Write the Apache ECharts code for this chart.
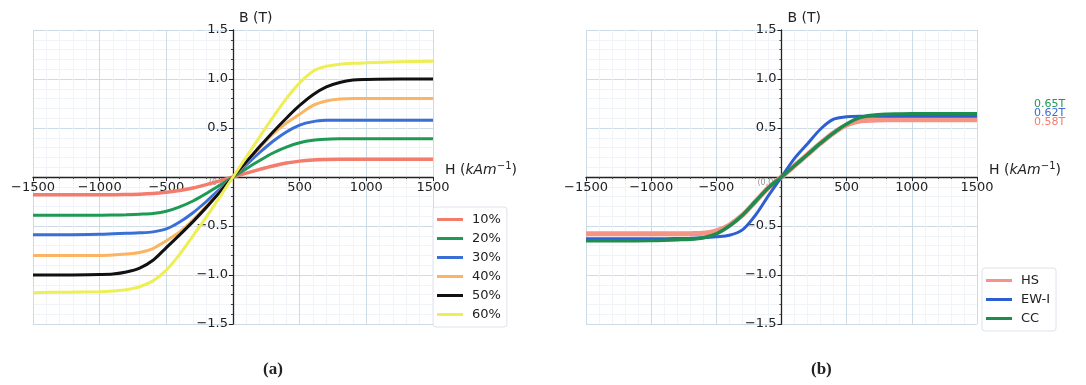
<!DOCTYPE html>
<html>
<head>
<meta charset="utf-8">
<script src="https://cdn.jsdelivr.net/npm/echarts@6/dist/echarts.min.js"></script>
<style>html,body{margin:0;padding:0;background:#fff}#c{width:1086px;height:385px}</style>
</head>
<body>
<div id="c"></div>
<script>
// ---- data ----
const H = [-1500,-1250,-1000,-900,-800,-700,-600,-500,-400,-300,-200,-100,0,100,200,300,400,500,600,700,800,900,1000,1250,1500];

const leftNames = ['10%','20%','30%','40%','50%','60%'];
const b10 = [-0.18,-0.18,-0.18,-0.18,-0.178,-0.175,-0.168,-0.155,-0.138,-0.113,-0.078,-0.04,0,0.04,0.078,0.113,0.142,0.162,0.174,0.178,0.18,0.18,0.18,0.18,0.18];
const b20 = [-0.39,-0.39,-0.39,-0.388,-0.385,-0.38,-0.372,-0.35,-0.305,-0.245,-0.168,-0.085,0,0.085,0.168,0.245,0.305,0.35,0.375,0.385,0.39,0.39,0.39,0.39,0.39];
const b30 = [-0.59,-0.59,-0.585,-0.58,-0.575,-0.57,-0.56,-0.53,-0.46,-0.365,-0.25,-0.125,0,0.125,0.25,0.365,0.46,0.53,0.565,0.578,0.58,0.58,0.58,0.58,0.58];
const b40 = [-0.80,-0.80,-0.80,-0.795,-0.785,-0.77,-0.73,-0.65,-0.56,-0.44,-0.30,-0.15,0,0.15,0.30,0.44,0.55,0.64,0.73,0.775,0.795,0.80,0.80,0.80,0.80];
const b50 = [-1.0,-1.0,-0.995,-0.99,-0.97,-0.93,-0.85,-0.72,-0.59,-0.455,-0.31,-0.155,0,0.156,0.31,0.46,0.60,0.73,0.84,0.92,0.965,0.99,0.995,1.0,1.0];
const b60 = [-1.18,-1.175,-1.17,-1.163,-1.15,-1.12,-1.06,-0.95,-0.79,-0.60,-0.41,-0.205,0,0.205,0.41,0.61,0.80,0.96,1.08,1.13,1.15,1.16,1.165,1.175,1.18];

const rightNames = ['HS','EW-I','CC'];
const bHS  = [-0.58,-0.58,-0.58,-0.58,-0.58,-0.578,-0.575,-0.55,-0.49,-0.39,-0.25,-0.11,0,0.115,0.23,0.345,0.45,0.53,0.57,0.58,0.585,0.585,0.585,0.585,0.585];
const bEWI = [-0.63,-0.63,-0.63,-0.63,-0.628,-0.625,-0.62,-0.61,-0.595,-0.54,-0.39,-0.19,0,0.19,0.34,0.49,0.59,0.615,0.62,0.62,0.62,0.62,0.62,0.62,0.62];
const bCC  = [-0.65,-0.65,-0.648,-0.645,-0.64,-0.635,-0.62,-0.58,-0.50,-0.39,-0.25,-0.11,0,0.115,0.23,0.345,0.45,0.54,0.605,0.63,0.64,0.643,0.645,0.645,0.645];

const satLabels = ['0.65T','0.62T','0.58T'];
const xTicks = {min:-1500, max:1500, interval:500};
const yTicks = {min:-1.5, max:1.5, interval:0.5};
const panelLabels = ['a','b'];

// ---- layout / styles ----
const grids = [{left:33, top:30, width:400, height:294}, {left:586, top:30, width:391, height:294}];
const leftColors = ['#f47c6c','#1f9a55','#3a6fd6','#fbb461','#111111','#eeee55'];
const leftWidths = [3.5,3,3,3,3,3];
const rightColors = ['#f59484','#2d5fd3','#1e8b4f'];
const rightWidths = [5,3,3.5];
const FONT = 'DejaVu Sans';
const TXT = '#222';

function pairs(ys){ return H.map((h,i)=>[h,ys[i]]); }
const minus = s => String(s).replace('-','\u2212');

// axes are moved to the origin through offset (labels, ticks and line move together)
function xAxis(gi){
  const g = grids[gi];
  const zeroFromBottom = g.height * (0 - yTicks.min) / (yTicks.max - yTicks.min);
  return {
    type:'value', gridIndex:gi, min:xTicks.min, max:xTicks.max, interval:xTicks.interval,
    position:'bottom', offset:-zeroFromBottom,
    axisLine:{onZero:false, lineStyle:{color:'#222', width:1.3}},
    axisTick:{show:true, length:4, lineStyle:{color:'#222'}},
    minorTick:{show:true, splitNumber:5, length:2, lineStyle:{color:'#444'}},
    splitLine:{show:true, lineStyle:{color:'#cddbe7', width:1}},
    minorSplitLine:{show:true, lineStyle:{color:'#f0f3f7', width:1}},
    axisLabel:{show:true, showMinLabel:true, showMaxLabel:true, margin:4, fontSize:13, color:TXT, fontFamily:FONT,
      formatter:v=> v===0 ? '' : minus(v)},
    name:'{n|H (}{i|kAm}{s|\u22121}{n|)}', nameLocation:'end', nameGap:12,
    nameTextStyle:{align:'left', verticalAlign:'bottom', padding:[0,0,-2,0],
      rich:{n:{fontSize:14, color:TXT, fontFamily:FONT},
            i:{fontSize:14, color:TXT, fontFamily:FONT, fontStyle:'italic'},
            s:{fontSize:10, color:TXT, fontFamily:FONT, padding:[0,0,8,0]}}}
  };
}
function yAxis(gi){
  const g = grids[gi];
  const zeroFromLeft = g.width * (0 - xTicks.min) / (xTicks.max - xTicks.min);
  return {
    type:'value', gridIndex:gi, min:yTicks.min, max:yTicks.max, interval:yTicks.interval,
    position:'left', offset:-zeroFromLeft,
    axisLine:{onZero:false, lineStyle:{color:'#222', width:1.3}},
    axisTick:{show:true, length:4, lineStyle:{color:'#222'}},
    minorTick:{show:true, splitNumber:5, length:2, lineStyle:{color:'#444'}},
    splitLine:{show:true, lineStyle:{color:'#cddbe7', width:1}},
    minorSplitLine:{show:true, lineStyle:{color:'#f0f3f7', width:1}},
    axisLabel:{show:true, showMinLabel:true, showMaxLabel:true, margin:5, fontSize:13, color:TXT, fontFamily:FONT,
      formatter:v=> v===0 ? '' : minus(v.toFixed(1))},
    name:'B (T)', nameLocation:'end', nameGap:5,
    nameTextStyle:{align:'left', verticalAlign:'bottom', padding:[0,0,0,6], fontSize:14, color:TXT, fontFamily:FONT}
  };
}

const series = [];
[b10,b20,b30,b40,b50,b60].forEach((arr,i)=>{
  series.push({type:'line', name:leftNames[i], xAxisIndex:0, yAxisIndex:0, data:pairs(arr),
    smooth:0.3, showSymbol:false, symbol:'none',
    lineStyle:{color:leftColors[i], width:leftWidths[i]}, itemStyle:{color:leftColors[i]}});
});
[bHS,bEWI,bCC].forEach((arr,i)=>{
  series.push({type:'line', name:rightNames[i], xAxisIndex:1, yAxisIndex:1, data:pairs(arr),
    smooth:0.3, showSymbol:false, symbol:'none',
    lineStyle:{color:rightColors[i], width:rightWidths[i]}, itemStyle:{color:rightColors[i]}});
});
[0,1].forEach(gi=>{
  series.push({type:'scatter', xAxisIndex:gi, yAxisIndex:gi, data:[[0,0]], symbolSize:0, silent:true, z:1,
    label:{show:true, position:[-24,2], formatter:'(0,0)', fontSize:8, color:'#777', fontFamily:FONT}});
});

function legend(names, left, top){
  return {data:names, orient:'vertical', left:left, top:top, icon:'rect', itemWidth:26, itemHeight:3,
    itemGap:4, padding:[5,6,5,4], backgroundColor:'rgba(255,255,255,0.85)', borderColor:'#dde3ea', borderWidth:1, borderRadius:3,
    textStyle:{fontSize:13, color:TXT, fontFamily:FONT, lineHeight:15, padding:[0,0,0,4]}};
}

const serif = 'Liberation Serif';
const titleRich = {p:{fontSize:17, fontFamily:serif, color:'#222'}, b:{fontSize:17, fontFamily:serif, fontWeight:'bold', color:'#222'}};
const option = {
  animation:false,
  backgroundColor:'#fff',
  grid:grids.map(g=>Object.assign({containLabel:false}, g)),
  xAxis:[xAxis(0), xAxis(1)],
  yAxis:[yAxis(0), yAxis(1)],
  legend:[legend(leftNames, 433, 207), legend(rightNames, 982, 268)],
  title:[
    {text:'{p|(}{b|'+panelLabels[0]+'}{p|)}', left:258, top:356, textStyle:{rich:titleRich}},
    {text:'{p|(}{b|'+panelLabels[1]+'}{p|)}', left:806, top:356, textStyle:{rich:titleRich}}
  ],
  graphic:[
    {type:'text', left:1034, top:99, z:10, style:{text:satLabels[0], fill:'#1f9a55', font:'11px "DejaVu Sans"'}},
    {type:'text', left:1034, top:108, z:10, style:{text:satLabels[1], fill:'#3d6ad6', font:'11px "DejaVu Sans"'}},
    {type:'text', left:1034, top:117, z:9, style:{text:satLabels[2], fill:'#f27e6e', font:'11px "DejaVu Sans"'}}
  ],
  series:series
};
const chart = echarts.init(document.getElementById('c'), null, {renderer:'canvas'});
chart.setOption(option);
</script>
</body>
</html>
